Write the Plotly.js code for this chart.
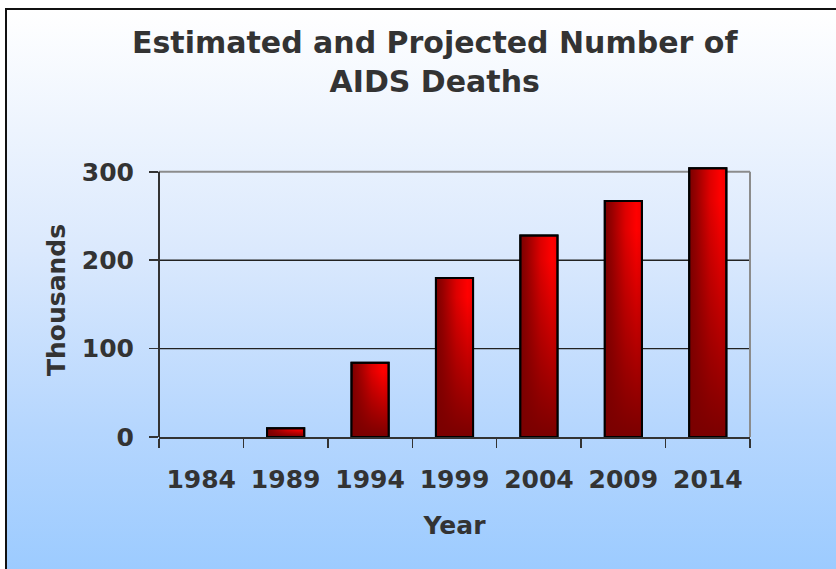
<!DOCTYPE html>
<html>
<head>
<meta charset="utf-8">
<script src="https://cdn.plot.ly/plotly-3.0.1.min.js"></script>
<style>
  html, body { margin: 0; padding: 0; background: #ffffff; overflow: hidden; }
  #frame {
    position: absolute; left: 5px; top: 8px; width: 900px; height: 620px;
    border-left: 2px solid #111; border-top: 2px solid #111;
    background: linear-gradient(to bottom, #ffffff 0px, #dbe9fd 240px, #b5d6fe 420px, #9ccbff 561px);
  }
  #chart { position: absolute; left: 0; top: 0; width: 836px; height: 569px; }
</style>
</head>
<body>
<div id="frame"></div>
<div id="chart"></div>
<script>
// Estimated and projected AIDS deaths, in thousands
const years = ['1984', '1989', '1994', '1999', '2004', '2009', '2014'];
const deaths = [0, 10, 84, 180, 228, 267, 304];
const yTicks = [0, 100, 200, 300];
const yTop = Math.max(...yTicks);

const FONT = 'DejaVu Sans, Verdana, sans-serif';
const INK = '#333333';
const FRAME_GREY = '#8c8c8c';

const trace = {
  type: 'bar',
  x: years,
  y: deaths,
  marker: { color: '#b00000', line: { color: '#000000', width: 2 } },
  hoverinfo: 'skip'
};

// Horizontal grid lines at the inner ticks (black) and a grey line at the top tick,
// plus the value axis line and a grey right edge, all stopping at the top tick.
const frameShapes = [
  ...yTicks.filter(v => v > 0 && v < yTop).map(v => ({
    type: 'line', xref: 'paper', yref: 'y', x0: 0, x1: 1, y0: v, y1: v,
    line: { color: '#222222', width: 1.3 }, layer: 'below'
  })),
  { type: 'line', xref: 'paper', yref: 'y', x0: 0, x1: 1, y0: yTop, y1: yTop,
    line: { color: FRAME_GREY, width: 2 }, layer: 'below' },
  { type: 'line', xref: 'paper', yref: 'y', x0: 1, x1: 1, y0: 0, y1: yTop,
    line: { color: FRAME_GREY, width: 2 }, layer: 'below' },
  { type: 'line', xref: 'paper', yref: 'y', x0: 0, x1: 0, y0: 0, y1: yTop,
    line: { color: INK, width: 2 }, layer: 'above' }
];

const layout = {
  width: 836,
  height: 569,
  paper_bgcolor: 'rgba(0,0,0,0)',
  plot_bgcolor: 'rgba(0,0,0,0)',
  margin: { l: 159, r: 86, t: 163, b: 132 },
  bargap: 0.56,
  showlegend: false,
  title: {
    text: 'Estimated and Projected Number of<br>AIDS Deaths',
    font: { family: FONT, size: 30, color: INK, weight: 'bold' },
    xref: 'container', x: 0.52, xanchor: 'center',
    yref: 'container', y: 0.906, yanchor: 'top'
  },
  xaxis: {
    type: 'category',
    tickson: 'boundaries',
    ticks: 'outside', ticklen: 9, tickwidth: 1.5, tickcolor: INK,
    showline: true, linecolor: INK, linewidth: 2,
    showgrid: false,
    tickfont: { family: FONT, size: 25, color: INK, weight: 'bold' },
    ticklabelstandoff: 19,
    title: { text: 'Year', font: { family: FONT, size: 25, color: INK, weight: 'bold' }, standoff: 23 },
    fixedrange: true
  },
  yaxis: {
    // a little headroom above the last tick so the tallest bar is not cut
    range: [0, 310],
    tickvals: yTicks,
    ticktext: yTicks.map(String),
    ticks: 'outside', ticklen: 9, tickwidth: 1.5, tickcolor: INK,
    showline: false,
    showgrid: false,
    zeroline: false,
    tickfont: { family: FONT, size: 25, color: INK, weight: 'bold' },
    ticklabelstandoff: 10,
    title: { text: 'Thousands', font: { family: FONT, size: 25, color: INK, weight: 'bold' }, standoff: 9 },
    fixedrange: true
  },
  shapes: frameShapes
};

// Shade each bar: dark-to-bright red across, darkening toward the base
function shadeBars(gd) {
  const svg = gd.querySelector('svg.main-svg');
  const NS = 'http://www.w3.org/2000/svg';
  let defs = svg.querySelector('defs');
  if (!defs) { defs = document.createElementNS(NS, 'defs'); svg.insertBefore(defs, svg.firstChild); }

  function gradient(id, x2, y2, stops) {
    const g = document.createElementNS(NS, 'linearGradient');
    g.setAttribute('id', id);
    g.setAttribute('x1', '0'); g.setAttribute('y1', '0');
    g.setAttribute('x2', x2); g.setAttribute('y2', y2);
    stops.forEach(([off, col, op]) => {
      const s = document.createElementNS(NS, 'stop');
      s.setAttribute('offset', off);
      s.setAttribute('stop-color', col);
      s.setAttribute('stop-opacity', op);
      g.appendChild(s);
    });
    defs.appendChild(g);
  }
  gradient('barAcross', '1', '0', [
    ['0', '#7a0000', 1], ['0.18', '#960000', 1], ['0.55', '#dd0000', 1],
    ['0.85', '#ff0000', 1], ['1', '#f40000', 1]
  ]);
  gradient('barDown', '0', '1', [
    ['0', '#7a0000', 0], ['0.12', '#7a0000', 0], ['1', '#7a0000', 1]
  ]);

  gd.querySelectorAll('.barlayer .point path').forEach(p => {
    const box = p.getBBox();
    if (box.height < 1) { p.style.stroke = 'none'; p.style.fill = 'none'; return; }
    p.style.fill = 'url(#barAcross)';
    p.style.fillOpacity = 1;
    const overlay = p.cloneNode(true);
    overlay.style.fill = 'url(#barDown)';
    p.parentNode.insertBefore(overlay, p.nextSibling);
  });
}

const gd = document.getElementById('chart');
Plotly.newPlot(gd, [trace], layout, { displayModeBar: false, staticPlot: true })
  .then(() => shadeBars(gd));
</script>
</body>
</html>
